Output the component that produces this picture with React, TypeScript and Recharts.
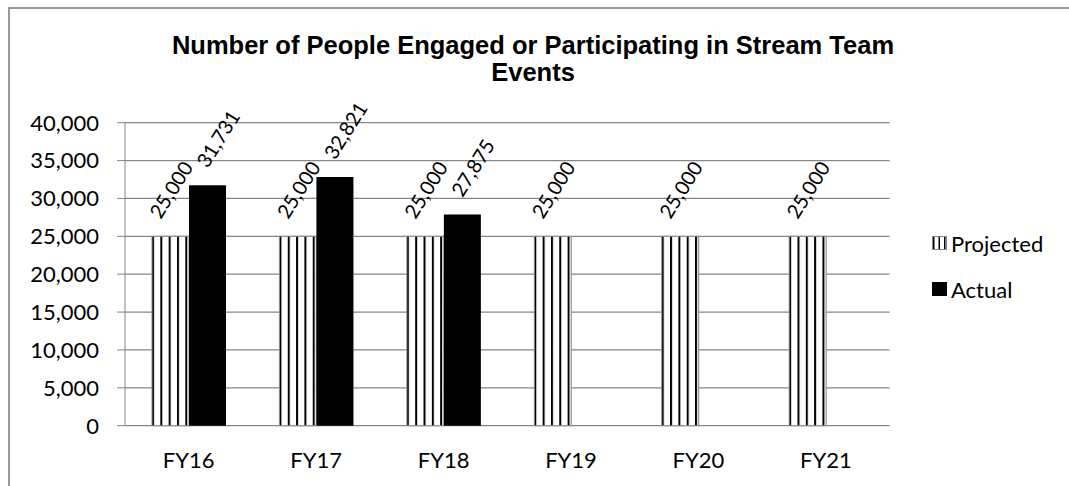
import React from 'react';
import { BarChart, Bar, XAxis, YAxis, CartesianGrid, Legend, LabelList } from 'recharts';

const categories = ['FY16', 'FY17', 'FY18', 'FY19', 'FY20', 'FY21'];
const projected = [25000, 25000, 25000, 25000, 25000, 25000];
const actual: (number | null)[] = [31731, 32821, 27875, null, null, null];
const yTicks = [0, 5000, 10000, 15000, 20000, 25000, 30000, 35000, 40000];
const edgeTicks = [0, 1, 2, 3, 4, 5, 6];

const data = categories.map((name, i) => ({ name, projected: projected[i], actual: actual[i] }));

const AXIS = '#868686';
const FONT = 'Lato, "Open Sans", sans-serif';

const fmt = (v: number) => v.toLocaleString('en-US');

// eslint-disable-next-line @typescript-eslint/no-explicit-any
function RotatedLabel(props: any) {
    const { x, y, width, value, shift } = props;
    if (value == null) return null;
    const cx = x + width / 2 + (shift || 0);
    const cy = y - 47;
    return (
        <text
            x={cx}
            y={cy}
            textAnchor="middle"
            dominantBaseline="central"
            transform={`rotate(-58, ${cx}, ${cy})`}
            fill="#000"
            fontSize={20}
            fontFamily={FONT}
        >
            {fmt(value)}
        </text>
    );
}

function StripeIcon() {
    return (
        <svg width={15} height={14} style={{ display: 'block' }}>
            <rect x={0.5} y={0.5} width={14} height={13} fill="#fff" stroke={AXIS} />
            <rect x={1} y={1} width={1.5} height={12} fill="#000" />
            <rect x={6.5} y={1} width={1.5} height={12} fill="#000" />
            <rect x={12} y={1} width={1.5} height={12} fill="#000" />
        </svg>
    );
}

function LegendBox() {
    const rows = [
        { label: 'Projected', icon: <StripeIcon /> },
        { label: 'Actual', icon: <div style={{ width: 15, height: 14, background: '#000' }} /> },
    ];
    return (
        <div style={{ fontFamily: FONT, fontSize: 22, color: '#000' }}>
            {rows.map(r => (
                <div key={r.label} style={{ display: 'flex', alignItems: 'center', height: 46 }}>
                    {r.icon}
                    <span style={{ marginLeft: 4 }}>{r.label}</span>
                </div>
            ))}
        </div>
    );
}

export default function App() {
    return (
        <div style={{ position: 'absolute', left: 0, top: 0, width: 1069, height: 486, overflow: 'hidden', background: '#fff' }}>
            <div style={{ position: 'absolute', left: 8, top: 7, width: 1100, height: 600, border: '2px solid #999' }} />
            <div
                style={{
                    position: 'absolute',
                    left: 0,
                    top: 32,
                    width: 1066,
                    textAlign: 'center',
                    fontFamily: '"Liberation Sans", Arial, sans-serif',
                    fontWeight: 'bold',
                    fontSize: 25.5,
                    lineHeight: '27px',
                    color: '#000',
                }}
            >
                Number of People Engaged or Participating in Stream Team
                <br />
                Events
            </div>
            <BarChart
                width={1069}
                height={486}
                data={data}
                margin={{ top: 122.7, right: 179.4, left: 0, bottom: 0 }}
                barCategoryGap={27}
                barGap={0}
            >
                <defs>
                    <pattern id="vstripes" patternUnits="objectBoundingBox" width={0.225} height={1}>
                        <rect x={0} y={0} width={8.3} height={400} fill="#fff" />
                        <rect x={0} y={0} width={2} height={400} fill="#000" />
                    </pattern>
                </defs>
                <CartesianGrid xAxisId="cat" vertical={false} stroke={AXIS} strokeWidth={1.2} />
                <XAxis
                    xAxisId="edges"
                    type="number"
                    domain={[0, 6]}
                    ticks={edgeTicks}
                    allowDataOverflow
                    height={0}
                    tickSize={7}
                    stroke={AXIS}
                    tick={() => <g />}
                />
                <XAxis
                    xAxisId="cat"
                    dataKey="name"
                    height={60.3}
                    axisLine={false}
                    tickLine={false}
                    tickSize={7}
                    tickMargin={20}
                    tick={{ fill: '#000', fontSize: 22, fontFamily: FONT }}
                />
                <YAxis
                    width={125}
                    domain={[0, 40000]}
                    ticks={yTicks}
                    tickSize={8}
                    tickMargin={18}
                    stroke={AXIS}
                    tickFormatter={fmt}
                    tick={{ fill: '#000', fontSize: 22, fontFamily: FONT }}
                />
                <Legend
                    layout="horizontal"
                    verticalAlign="middle"
                    align="center"
                    wrapperStyle={{ position: 'absolute', left: 932, top: 220, width: 130 }}
                    content={<LegendBox />}
                />
                <Bar
                    xAxisId="cat"
                    dataKey="projected"
                    name="Projected"
                    fill="url(#vstripes)"
                    stroke={AXIS}
                    strokeWidth={1}
                    isAnimationActive={false}
                >
                    <LabelList dataKey="projected" content={<RotatedLabel shift={0} />} />
                </Bar>
                <Bar xAxisId="cat" dataKey="actual" name="Actual" fill="#000" isAnimationActive={false}>
                    <LabelList dataKey="actual" content={<RotatedLabel shift={10} />} />
                </Bar>
            </BarChart>
        </div>
    );
}
